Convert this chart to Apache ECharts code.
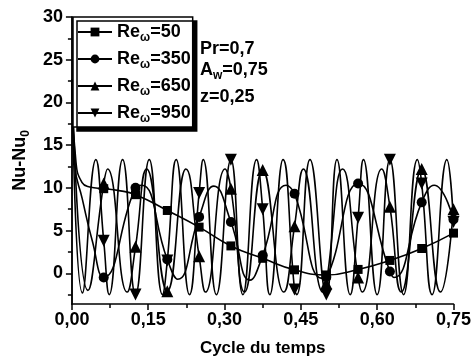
<!DOCTYPE html>
<html>
<head>
<meta charset="utf-8">
<script src="https://cdn.jsdelivr.net/npm/echarts@6/dist/echarts.min.js"></script>
<style>html,body{margin:0;padding:0;background:#fff;}</style>
</head>
<body>
<div id="main" style="width:474px;height:362px;"></div>
<script>
// positions des symboles (cycle du temps)
var markT = [0.0625, 0.125, 0.1875, 0.25, 0.3125, 0.375, 0.4375, 0.5, 0.5625, 0.625, 0.6875, 0.75];

// Re_w = 50
var t50 = [0, 0.008, 0.02, 0.035, 0.09];
var y50 = [22.7, 13.0, 10.6, 10.1, 9.7];
var m50 = [9.9, 9.2, 7.35, 5.4, 3.2, 1.75, 0.4, -0.2, 0.45, 1.5, 2.9, 4.7];

// Re_w = 350
var t350 = [0, 0.006, 0.02, 0.04, 0.137, 0.208, 0.279, 0.35, 0.421, 0.492, 0.633, 0.712];
var y350 = [22.7, 12.5, 8.8, 3.8, 10.3, -0.7, 10.2, -0.8, 10.3, -0.6, -0.5, 10.3];
var m350 = [-0.5, 10.0, 1.6, 6.6, 6.0, 2.1, 9.3, -0.45, 10.5, 0.2, 8.3, 6.3];

// Re_w = 650
var t650 = [0, 0.0315, 0.070, 0.1085, 0.147, 0.224, 0.2625, 0.301, 0.3395, 0.4165, 0.455, 0.4935, 0.532, 0.5705, 0.609, 0.6475, 0.7245];
var y650 = [22.7, -2.0, 12.2, -2.2, 12.2, 12.2, -2.2, 12.2, -2.2, -2.2, 12.2, -2.2, 12.2, -2.2, 12.2, -2.2, -2.2];
var m650 = [10.5, 3.1, -2.1, 2.0, 9.9, 12.1, 5.5, -1.2, -0.5, 7.8, 12.2, 7.5];

// Re_w = 950
var t950 = [0, 0.0207, 0.047, 0.0733, 0.0996, 0.152, 0.178, 0.205, 0.231, 0.258, 0.284, 0.336, 0.363, 0.389, 0.415, 0.442, 0.468, 0.521, 0.547, 0.573, 0.600, 0.652, 0.679, 0.708, 0.737];
var y950 = [22.7, -2.3, 13.3, -2.5, 13.3, 13.3, -2.5, 13.3, -2.5, 13.3, -2.5, -2.5, 13.3, -2.5, 13.3, -2.5, 13.3, 13.3, -2.5, 13.3, -2.5, -2.5, 13.3, -2.5, 13.3];
var m950 = [3.8, -2.5, 1.5, 9.4, 13.3, 7.5, -1.9, -2.5, 6.5, 13.3, 10.5, 6.0];

var yTicks = [0, 5, 10, 15, 20, 25, 30];
var yMinor = [-2.5, 2.5, 7.5, 12.5, 17.5, 22.5, 27.5];
var reNames = ['50', '350', '650', '950'];

var font = 'Liberation Sans';

function build(t, y, m) {
    var pts = [];
    for (var i = 0; i < t.length; i++) pts.push({value: [t[i], y[i]], symbol: 'none'});
    for (var j = 0; j < markT.length; j++) pts.push({value: [markT[j], m[j]]});
    pts.sort(function (a, b) { return a.value[0] - b.value[0]; });
    return pts;
}

function serie(name, sym, size, data) {
    return {
        type: 'line', name: name, smooth: 0.5,
        symbol: sym, symbolSize: size,
        lineStyle: {color: '#000', width: 1.6},
        itemStyle: {color: '#000'},
        data: data
    };
}

var txt = {fontFamily: font, fontWeight: 'bold', fontSize: 18, color: '#000', lineHeight: 20};
var sub = {fontFamily: font, fontWeight: 'bold', fontSize: 12, color: '#000', lineHeight: 14, padding: [12, 0, 0, 0]};

var myChart = echarts.init(document.getElementById('main'));

myChart.setOption({
    animation: false,
    backgroundColor: '#fff',
    grid: {left: 69, right: 17, top: 17, bottom: 58},
    legend: {
        orient: 'vertical', left: 73, top: 17,
        padding: [3, 2, 2, 4], itemGap: 3,
        itemWidth: 34, itemHeight: 11,
        backgroundColor: '#fff', borderColor: '#000', borderWidth: 1.5,
        shadowColor: '#000', shadowBlur: 0, shadowOffsetX: 4, shadowOffsetY: 4,
        data: reNames,
        formatter: function (n) { return '{a|Re}{s|\u03c9}{a|=' + n + '}'; },
        textStyle: {rich: {a: txt, s: sub}}
    },
    graphic: [
        {type: 'text', x: 200, y: 49, style: {text: '{a|Pr=0,7}', rich: {a: txt}, align: 'left', verticalAlign: 'middle'}},
        {type: 'text', x: 200, y: 70, style: {text: '{a|A}{s|w}{a|=0,75}', rich: {a: txt, s: sub}, align: 'left', verticalAlign: 'middle'}},
        {type: 'text', x: 200, y: 97, style: {text: '{a|z=0,25}', rich: {a: txt}, align: 'left', verticalAlign: 'middle'}}
    ],
    xAxis: {
        type: 'value', min: 0, max: 0.75, interval: 0.15,
        axisLine: {onZero: false, lineStyle: {color: '#000', width: 1.5}},
        axisTick: {length: 6, lineStyle: {color: '#000', width: 1.5}},
        minorTick: {show: true, splitNumber: 2, length: 4, lineStyle: {color: '#000', width: 1.5}},
        splitLine: {show: false},
        axisLabel: {
            margin: 7, color: '#000', fontFamily: font, fontWeight: 'bold', fontSize: 18,
            formatter: function (v) { return v.toFixed(2).replace('.', ','); }
        },
        name: 'Cycle du temps', nameLocation: 'middle', nameGap: 36,
        nameTextStyle: {color: '#000', fontFamily: font, fontWeight: 'bold', fontSize: 17}
    },
    yAxis: [{
        type: 'value', min: -3.6, max: 30,
        axisLine: {show: true, onZero: false, lineStyle: {color: '#000', width: 1.5}},
        axisTick: {show: true, length: 6, customValues: yTicks, lineStyle: {color: '#000', width: 1.5}},
        splitLine: {show: false},
        axisLabel: {margin: 9, customValues: yTicks, color: '#000', fontFamily: font, fontWeight: 'bold', fontSize: 18},
        name: '{a|Nu-Nu}{s|0}', nameLocation: 'middle', nameGap: 37,
        nameTextStyle: {rich: {a: txt, s: sub}}
    }, {
        type: 'value', min: -3.6, max: 30, position: 'left', offset: 0,
        axisLine: {show: true, onZero: false, lineStyle: {color: '#000', width: 1.5}},
        axisTick: {show: true, length: 4, customValues: yMinor, lineStyle: {color: '#000', width: 1.5}},
        axisLabel: {show: false},
        splitLine: {show: false}
    }],
    series: [
        serie('50', 'rect', 9, build(t50, y50, m50)),
        serie('350', 'circle', 10, build(t350, y350, m350)),
        serie('650', 'triangle', 12, build(t650, y650, m650)),
        serie('950', 'path://M0,0L10,0L5,10Z', 12, build(t950, y950, m950))
    ]
});
</script>
</body>
</html>
